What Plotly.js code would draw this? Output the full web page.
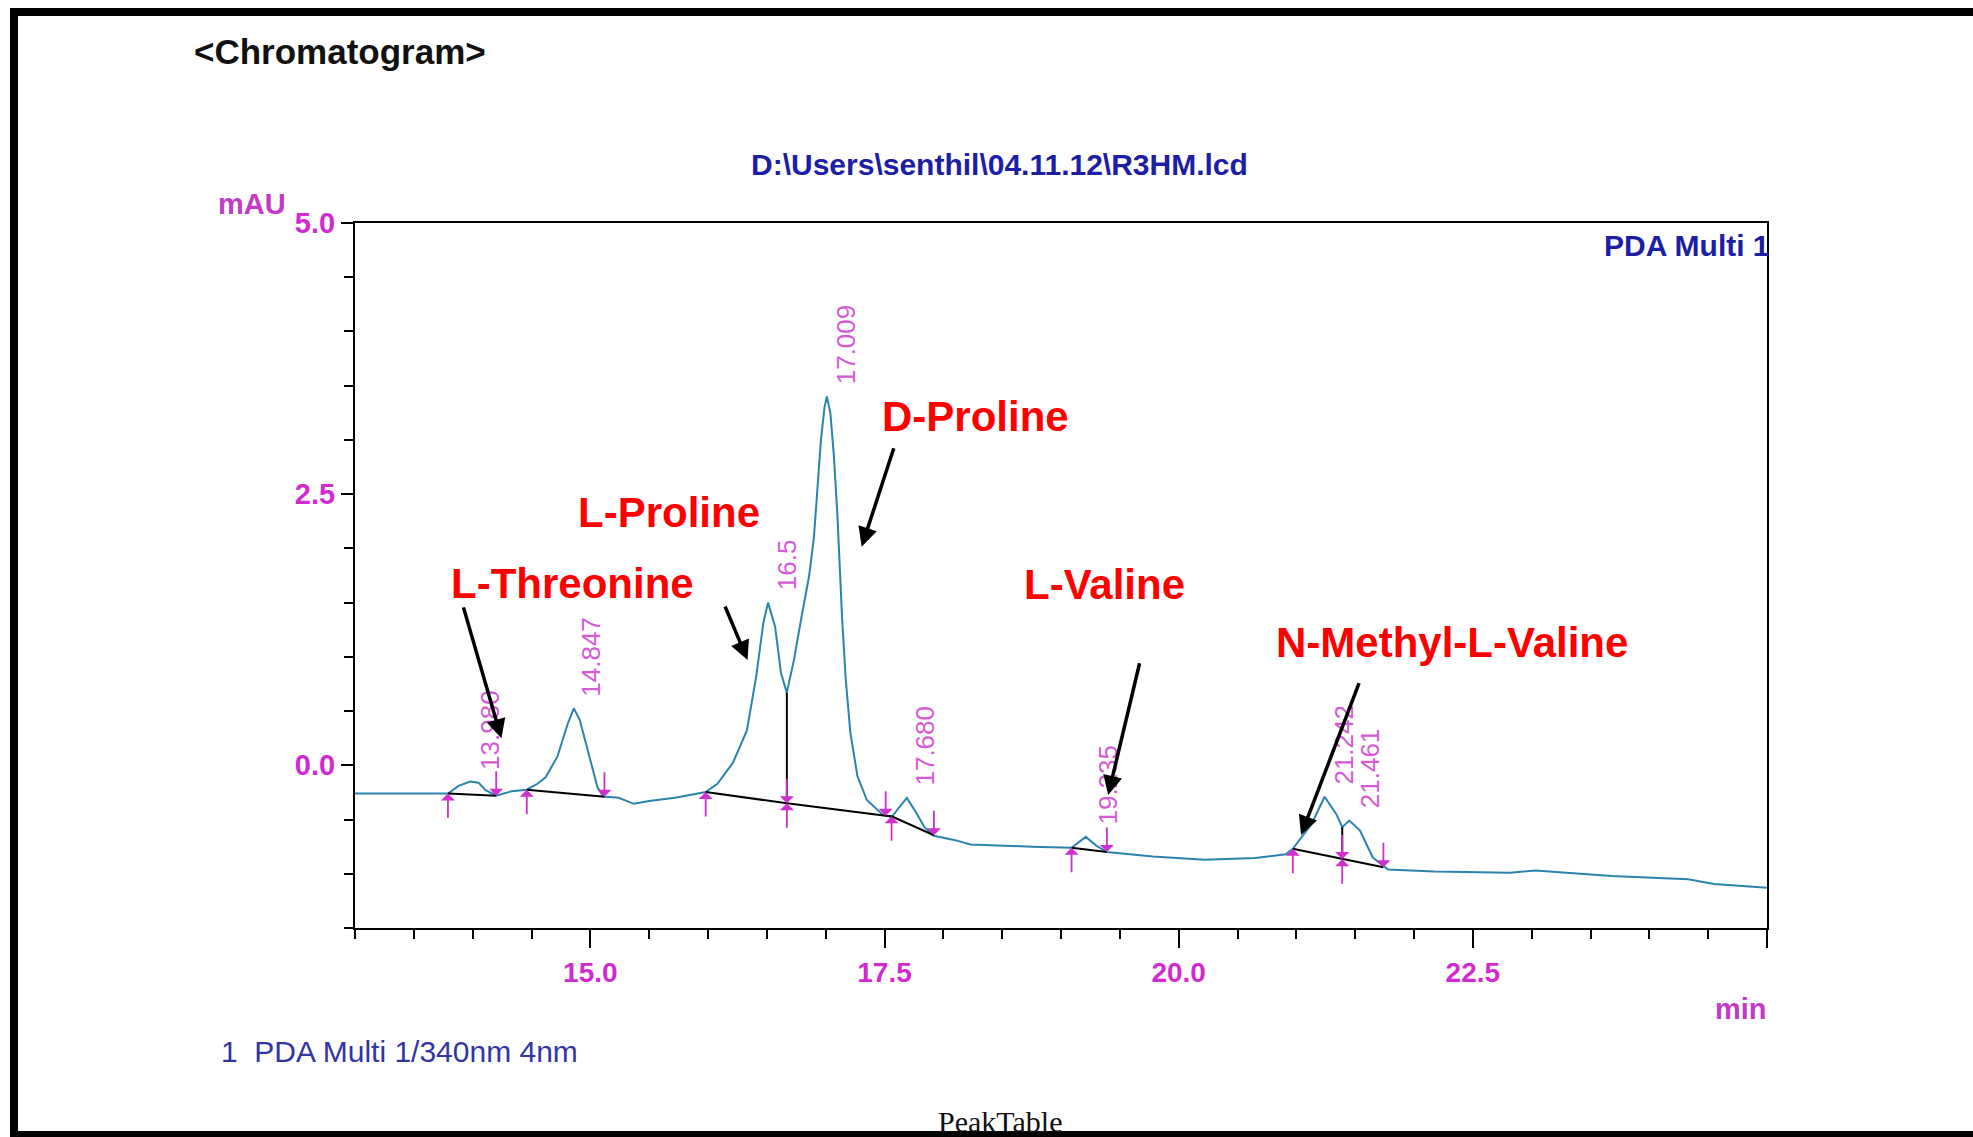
<!DOCTYPE html>
<html>
<head>
<meta charset="utf-8">
<script src="https://cdn.plot.ly/plotly-3.0.1.min.js"></script>
<style>
  html, body { margin: 0; padding: 0; background: #ffffff; }
  #chart { width: 1973px; height: 1137px; }
</style>
</head>
<body>
<div id="chart"></div>
<script>
// ---------------- DATA ----------------
const timeMin = [13.00, 13.38, 13.79, 13.88, 13.98, 14.05, 14.11, 14.20, 14.33, 14.46, 14.55, 14.62, 14.72, 14.81, 14.86, 14.91, 14.99, 15.06, 15.11, 15.24, 15.37, 15.50, 15.72, 15.98, 16.08, 16.21, 16.33, 16.41, 16.47, 16.51, 16.57, 16.62, 16.67, 16.73, 16.80, 16.86, 16.90, 16.93, 16.96, 16.99, 17.01, 17.04, 17.07, 17.10, 17.12, 17.14, 17.17, 17.21, 17.27, 17.35, 17.48, 17.56, 17.63, 17.69, 17.76, 17.84, 17.92, 18.10, 18.23, 18.46, 18.75, 19.09, 19.15, 19.21, 19.30, 19.39, 19.78, 20.22, 20.65, 20.91, 20.97, 21.05, 21.13, 21.24, 21.34, 21.39, 21.45, 21.54, 21.65, 21.78, 22.17, 22.82, 23.03, 23.68, 24.33, 24.55, 25.00];
const signalMAU = [-0.26, -0.26, -0.26, -0.19, -0.15, -0.16, -0.23, -0.28, -0.24, -0.225, -0.17, -0.11, 0.08, 0.39, 0.525, 0.42, 0.08, -0.20, -0.287, -0.30, -0.355, -0.33, -0.30, -0.247, -0.17, 0.02, 0.32, 0.82, 1.31, 1.50, 1.28, 0.85, 0.67, 0.97, 1.40, 1.75, 2.10, 2.55, 3.00, 3.30, 3.40, 3.25, 2.85, 2.30, 1.80, 1.35, 0.80, 0.30, -0.10, -0.32, -0.45, -0.48, -0.38, -0.30, -0.42, -0.57, -0.65, -0.69, -0.73, -0.74, -0.75, -0.76, -0.71, -0.66, -0.74, -0.80, -0.84, -0.87, -0.855, -0.82, -0.77, -0.66, -0.54, -0.29, -0.45, -0.57, -0.51, -0.60, -0.85, -0.96, -0.98, -0.99, -0.97, -1.02, -1.05, -1.095, -1.13];

// integration baselines and drop lines (null separates segments)
const baseTime = [13.79, 14.20, null, 14.46, 15.12, null, 15.98, 16.67, 17.51, 17.56, 17.92, null, 16.67, 16.67, null, 19.09, 19.39, null, 20.97, 21.39, 21.74, null, 21.39, 21.39];
const baseMAU  = [-0.26, -0.28, null, -0.225, -0.29, null, -0.247, -0.35, -0.465, -0.47, -0.645, null, 0.67, -0.35, null, -0.76, -0.80, null, -0.77, -0.865, -0.94, null, -0.57, -0.865];

// peak retention-time labels
const peakRT     = [13.98, 14.847, 16.51, 17.009, 17.68, 19.235, 21.242, 21.461];
const peakHeight = [-0.15, 0.525, 1.50, 3.40, -0.30, -0.66, -0.29, -0.51];
const peakText   = ['13.980', '14.847', '16.5', '17.009', '17.680', '19.235', '21.242', '21.461'];

// integration start (up) and end (down) markers
const startRT  = [13.79, 14.46, 15.98, 16.67, 17.56, 19.09, 20.97, 21.39];
const startMAU = [-0.26, -0.225, -0.247, -0.35, -0.47, -0.76, -0.77, -0.865];
const endRT    = [14.20, 15.12, 16.67, 17.51, 17.92, 19.39, 21.39, 21.74];
const endMAU   = [-0.28, -0.29, -0.35, -0.465, -0.645, -0.80, -0.865, -0.94];

// axis ticks
const xTickVals = [15, 17.5, 20, 22.5, 25];
const xTickText = ['15.0', '17.5', '20.0', '22.5', ''];
const yTickVals = [0, 2.5, 5];
const yTickText = ['0.0', '2.5', '5.0'];

// compound labels
const compoundNames = ['L-Threonine', 'L-Proline', 'D-Proline', 'L-Valine', 'N-Methyl-L-Valine'];

// ---------------- LAYOUT HELPERS ----------------
const W = 1973, H = 1137;
const L = 355, R = 1767, T = 223, B = 928;
const px = X => (X - L) / (R - L);
const py = Y => (B - Y) / (B - T);
const SANS = 'Liberation Sans, Arial, sans-serif';
const MAGENTA = '#cf2fcf';
const NAVY = '#1d1da6';

const traces = [
  {
    x: timeMin, y: signalMAU, type: 'scatter', mode: 'lines',
    line: { color: '#2b84ad', width: 2 }, hoverinfo: 'x+y', showlegend: false
  },
  {
    x: baseTime, y: baseMAU, type: 'scatter', mode: 'lines',
    line: { color: '#000000', width: 2 }, connectgaps: false, hoverinfo: 'skip', showlegend: false
  }
];

const annotations = [];

// peak labels (rotated)
peakRT.forEach((rt, i) => {
  annotations.push({
    x: rt, y: peakHeight[i], xref: 'x', yref: 'y',
    text: peakText[i], showarrow: false, textangle: -90,
    xanchor: 'center', yanchor: 'bottom', xshift: 19, yshift: 10,
    font: { family: SANS, size: 26, color: '#d65ad6' }
  });
});

// integration markers
startRT.forEach((rt, i) => {
  annotations.push({
    x: rt, y: startMAU[i], xref: 'x', yref: 'y', text: '', showarrow: true,
    ax: 0, ay: 26, arrowhead: 1, arrowsize: 1.3, arrowwidth: 1.8, arrowcolor: MAGENTA
  });
});
endRT.forEach((rt, i) => {
  annotations.push({
    x: rt, y: endMAU[i], xref: 'x', yref: 'y', text: '', showarrow: true,
    ax: 0, ay: -26, arrowhead: 1, arrowsize: 1.3, arrowwidth: 1.8, arrowcolor: MAGENTA
  });
});

// compound names (red) at pixel centres
const namePos = [[572, 583], [669, 512], [975, 416], [1104, 584], [1452, 642]];
compoundNames.forEach((name, i) => {
  annotations.push({
    x: px(namePos[i][0]), y: py(namePos[i][1]), xref: 'paper', yref: 'paper',
    text: '<b>' + name + '</b>', showarrow: false, xanchor: 'center', yanchor: 'middle',
    font: { family: SANS, size: 42, color: '#ff0000' }
  });
});

// black pointer arrows (tail -> tip in data units)
const pointers = [
  [13.918, 1.470, 14.244, 0.249],
  [16.140, 1.478, 16.336, 0.971],
  [17.583, 2.937, 17.306, 2.016],
  [19.671, 0.955, 19.401, -0.274],
  [21.538, 0.771, 21.040, -0.643]
];
pointers.forEach(p => {
  annotations.push({
    x: p[2], y: p[3], ax: p[0], ay: p[1], xref: 'x', yref: 'y', axref: 'x', ayref: 'y',
    text: '', showarrow: true, arrowhead: 2, arrowsize: 1.1, arrowwidth: 3.5, arrowcolor: '#000000'
  });
});

// static texts
const texts = [
  { t: '<b>&lt;Chromatogram&gt;</b>', X: 340, Y: 51, size: 35, color: '#111111', family: SANS, xa: 'center' },
  { t: '<b>D:\\Users\\senthil\\04.11.12\\R3HM.lcd</b>', X: 999, Y: 164, size: 30, color: NAVY, family: SANS, xa: 'center' },
  { t: '<b>mAU</b>', X: 252, Y: 204, size: 29, color: '#c23ac8', family: SANS, xa: 'center' },
  { t: '<b>PDA Multi 1</b>', X: 1772, Y: 245, size: 30, color: NAVY, family: SANS, xa: 'right' },
  { t: '<b>min</b>', X: 1741, Y: 1009, size: 29, color: '#c23ac8', family: SANS, xa: 'center' },
  { t: '1  PDA Multi 1/340nm 4nm', X: 219, Y: 1051, size: 30, color: '#3434a4', family: SANS, xa: 'left' },
  { t: 'PeakTable', X: 1000, Y: 1121, size: 30, color: '#111111', family: 'Liberation Serif, Times New Roman, serif', xa: 'center' }
];
texts.forEach(o => {
  annotations.push({
    x: px(o.X), y: py(o.Y), xref: 'paper', yref: 'paper', text: o.t, showarrow: false,
    xanchor: o.xa, yanchor: 'middle', font: { family: o.family, size: o.size, color: o.color }
  });
});

// outer frame
const shapes = [
  { type: 'line', xref: 'paper', yref: 'paper', x0: px(14), x1: px(14), y0: py(8), y1: py(1137), line: { color: '#000', width: 8 } },
  { type: 'line', xref: 'paper', yref: 'paper', x0: px(10), x1: px(1973), y0: py(12), y1: py(12), line: { color: '#000', width: 8 } },
  { type: 'line', xref: 'paper', yref: 'paper', x0: px(10), x1: px(1973), y0: py(1134.5), y1: py(1134.5), line: { color: '#000', width: 7 } }
];

const layout = {
  width: W, height: H,
  margin: { l: L, r: W - R, t: T, b: H - B, pad: 0 },
  paper_bgcolor: '#ffffff', plot_bgcolor: '#ffffff',
  showlegend: false,
  xaxis: {
    range: [13, 25], showgrid: false, zeroline: false,
    showline: true, mirror: true, linecolor: '#000', linewidth: 2,
    ticks: 'outside', tickmode: 'array', tickvals: xTickVals, ticktext: xTickText,
    ticklen: 18, tickwidth: 2, tickcolor: '#000',
    tickfont: { family: SANS, size: 28, color: '#d22ad2', weight: 'bold' },
    minor: { tickmode: 'linear', tick0: 13, dtick: 0.5, ticks: 'outside', ticklen: 9, tickwidth: 2, tickcolor: '#000', showgrid: false }
  },
  yaxis: {
    range: [-1.5, 5.0], showgrid: false, zeroline: false,
    showline: true, mirror: true, linecolor: '#000', linewidth: 2,
    ticks: 'outside', tickmode: 'array', tickvals: yTickVals, ticktext: yTickText,
    ticklen: 12, tickwidth: 2, tickcolor: '#000',
    tickfont: { family: SANS, size: 29, color: '#d22ad2', weight: 'bold' },
    minor: { tickmode: 'linear', tick0: 0, dtick: 0.5, ticks: 'outside', ticklen: 9, tickwidth: 2, tickcolor: '#000', showgrid: false }
  },
  annotations: annotations,
  shapes: shapes
};

Plotly.newPlot('chart', traces, layout, { displayModeBar: false, staticPlot: true });
</script>
</body>
</html>
